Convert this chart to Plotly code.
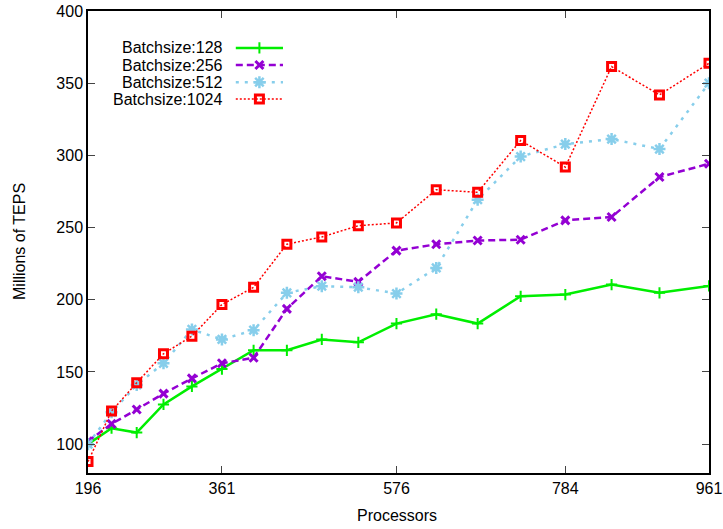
import plotly.graph_objects as go

processors = [196, 225, 256, 289, 324, 361, 400, 441, 484, 529, 576, 625, 676, 729, 784, 841, 900, 961]
bs128 = [100, 111, 108, 127.5, 140, 152, 165, 165, 172.5, 170.5, 183.5, 190, 183.5, 202.4, 203.6, 210.5, 204.8, 209.6]
bs256 = [102, 114, 124, 135, 145.5, 156, 159.8, 193.7, 216.3, 212.4, 234, 238.4, 241, 241.6, 255, 257.3, 285, 294.2]
bs512 = [100, 122, 141, 156, 179.4, 172.5, 178.9, 204.8, 209.4, 208.7, 204.3, 222, 269.3, 299.2, 307.8, 311.3, 304.4, 350]
bs1024 = [87.9, 122.9, 142.5, 162.6, 174.8, 196.7, 208.6, 238.5, 243.5, 251.3, 253.2, 276.2, 274.4, 310.3, 291.9, 361.5, 341.9, 363.8]

names = ["Batchsize:128", "Batchsize:256", "Batchsize:512", "Batchsize:1024"]
series = [bs128, bs256, bs512, bs1024]
x_ticks = [196, 361, 576, 784, 961]
y_ticks = [100, 150, 200, 250, 300, 350, 400]

FONT = "Liberation Sans, Arial, Helvetica, sans-serif"

styles = [
    dict(line=dict(color="#00ee00", width=2.5, dash="solid"),
         marker=dict(symbol="cross-thin", size=8, line=dict(color="#00ee00", width=2))),
    dict(line=dict(color="#9400d3", width=2.5, dash="7px,4px"),
         marker=dict(symbol="x-thin", size=8, line=dict(color="#9400d3", width=3))),
    dict(line=dict(color="#87ceeb", width=2.5, dash="3px,6px"),
         marker=dict(symbol="asterisk", size=10, line=dict(color="#87ceeb", width=2.5))),
    dict(line=dict(color="#ff0000", width=1.5, dash="2px,2px"),
         marker=dict(symbol="square-open", size=8, color="#ff0000", line=dict(color="#ff0000", width=3))),
]

fig = go.Figure()
for name, vals, st in zip(names, series, styles):
    fig.add_trace(go.Scatter(x=processors, y=vals, mode="lines+markers", name=name,
                             line=st["line"], marker=st["marker"], showlegend=False))

# manual gnuplot-style legend (text left, sample right)
rows_y = [0.920, 0.883, 0.846, 0.8095]
for name, st, yy in zip(names, styles, rows_y):
    fig.add_trace(go.Scatter(x=[0.238, 0.276, 0.314], y=[yy, yy, yy], xaxis="x2", yaxis="y2",
                             mode="lines", line=st["line"], showlegend=False, hoverinfo="skip"))
    fig.add_trace(go.Scatter(x=[0.276], y=[yy], xaxis="x2", yaxis="y2",
                             mode="markers", marker=st["marker"], showlegend=False, hoverinfo="skip"))
    fig.add_annotation(x=0.2206, y=yy, xref="paper", yref="paper", text=name, showarrow=False,
                       xanchor="right", yanchor="middle", font=dict(family=FONT, size=16, color="black"))

# axis titles
fig.add_annotation(x=(397 - 88) / 621, y=-(515 - 473) / 462, xref="paper", yref="paper", text="Processors",
                   showarrow=False, xanchor="center", yanchor="middle",
                   font=dict(family=FONT, size=16, color="black"))
fig.add_annotation(x=-(88 - 19) / 621, y=(473 - 242) / 462, xref="paper", yref="paper", text="Millions of TEPS",
                   showarrow=False, textangle=-90, xanchor="center", yanchor="middle",
                   font=dict(family=FONT, size=16, color="black"))

axis_common = dict(showgrid=False, zeroline=False, showline=True, linecolor="black", linewidth=1.5,
                   mirror="allticks", ticks="inside", ticklen=7, tickwidth=1, tickcolor="#444",
                   automargin=False, tickfont=dict(family=FONT, size=16, color="black"))

fig.update_layout(
    width=723, height=529,
    margin=dict(l=88, r=14, t=11, b=56, autoexpand=False),
    plot_bgcolor="white", paper_bgcolor="white",
    xaxis=dict(range=[196, 961], tickvals=x_ticks, ticktext=[str(v) for v in x_ticks], **axis_common),
    yaxis=dict(range=[80, 400], tickvals=y_ticks, ticktext=[str(v) for v in y_ticks], **axis_common),
    xaxis2=dict(overlaying="x", range=[0, 1], visible=False, domain=[0, 1]),
    yaxis2=dict(overlaying="y", range=[0, 1], visible=False, domain=[0, 1]),
)

fig.write_html("out.html", config={"displayModeBar": False},
               post_script="document.body.style.margin='0';")
